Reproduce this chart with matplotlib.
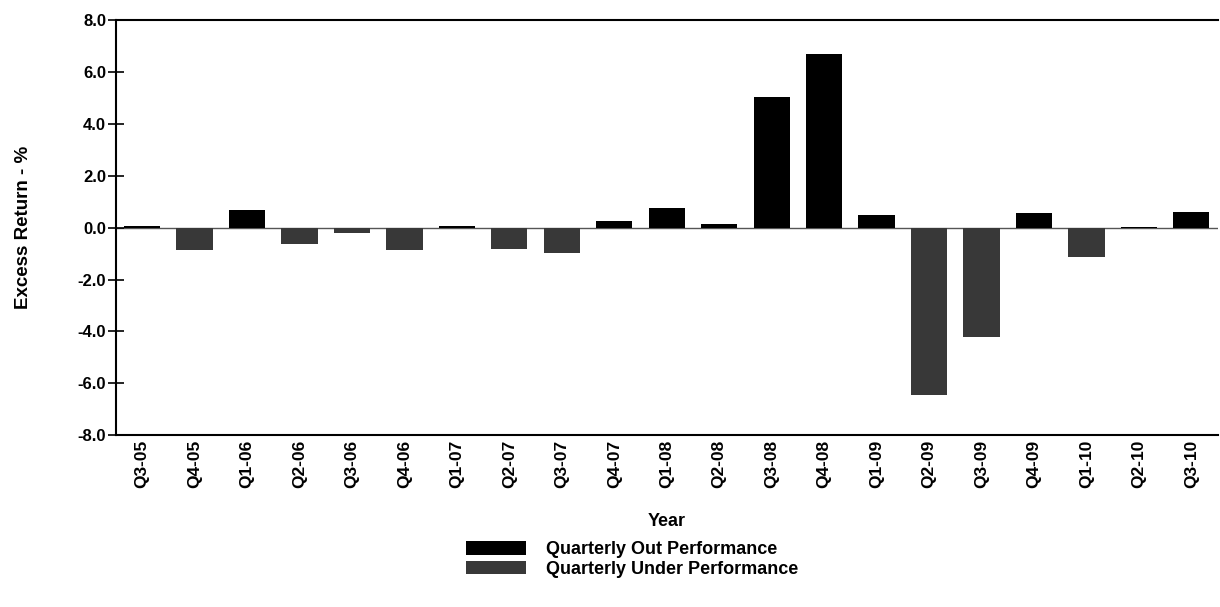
import matplotlib
matplotlib.use("Agg")
import matplotlib.pyplot as plt
from matplotlib.patches import Patch
import numpy as np

plt.rcParams['font.family'] = ['Liberation Sans', 'DejaVu Sans']

quarters = ['Q3-05', 'Q4-05', 'Q1-06', 'Q2-06', 'Q3-06', 'Q4-06', 'Q1-07',
            'Q2-07', 'Q3-07', 'Q4-07', 'Q1-08', 'Q2-08', 'Q3-08', 'Q4-08',
            'Q1-09', 'Q2-09', 'Q3-09', 'Q4-09', 'Q1-10', 'Q2-10', 'Q3-10']
excess = [0.05, -0.85, 0.66, -0.62, -0.2, -0.85, 0.05,
          -0.81, -0.98, 0.25, 0.77, 0.15, 5.02, 6.68,
          0.5, -6.45, -4.2, 0.58, -1.13, 0.03, 0.62]
yticks = [-8.0, -6.0, -4.0, -2.0, 0.0, 2.0, 4.0, 6.0, 8.0]

out_col = '#000000'
under_col = '#383838'

fig = plt.figure(figsize=(12.2, 6.07), dpi=100)
ax = fig.add_axes([0.095, 0.283, 0.903, 0.684])

x = np.arange(len(quarters))
vals = np.array(excess)
cols = [out_col if v >= 0 else under_col for v in vals]
ax.bar(x, vals, width=0.69, color=cols, zorder=2)
ax.axhline(0, color='#555555', lw=1.0, zorder=1)

ax.set_xlim(-0.5, len(quarters) - 0.5)
ax.set_ylim(-8, 8)
ax.set_yticks(yticks)
ax.set_yticklabels(['%.1f' % t for t in yticks], fontsize=12, fontweight='bold')
ax.set_xticks(x)
ax.set_xticklabels(quarters, rotation=90, fontsize=12.5, fontweight='bold')
ax.tick_params(axis='x', length=0, pad=3)
ax.tick_params(axis='y', direction='inout', length=12, width=1.2, pad=1)

ax.spines['right'].set_visible(False)
for s in ['left', 'top', 'bottom']:
    ax.spines[s].set_linewidth(1.5)

ax.set_ylabel('Excess Return - %', fontsize=13.5, fontweight='bold', labelpad=33)
ax.set_xlabel('Year', fontsize=13, fontweight='bold', labelpad=18)

handles = [Patch(facecolor=out_col, label='Quarterly Out Performance'),
           Patch(facecolor=under_col, label='Quarterly Under Performance')]
leg = fig.legend(handles=handles, loc='center', frameon=False, fontsize=13,
                 handlelength=3.3, handleheight=0.75, labelspacing=0.15,
                 handletextpad=1.1, bbox_to_anchor=(0.518, 0.078),
                 bbox_transform=fig.transFigure)
for t in leg.get_texts():
    t.set_fontweight('bold')

fig.savefig('out.png', dpi=100)
